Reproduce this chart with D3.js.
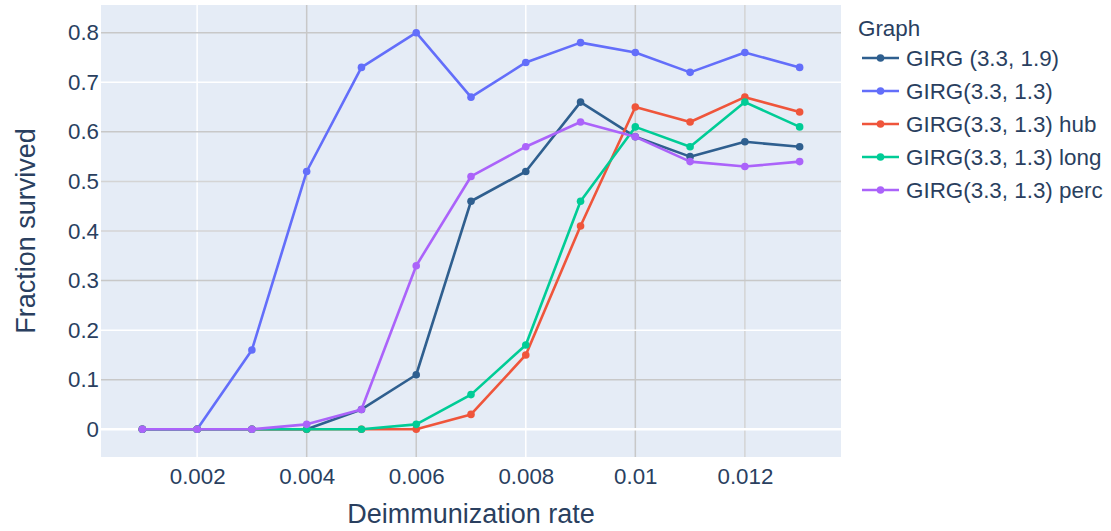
<!DOCTYPE html>
<html>
<head>
<meta charset="utf-8">
<script src="https://cdn.jsdelivr.net/npm/d3@7"></script>
<style>
  body { margin: 0; background: #fff; }
  text { font-family: "Liberation Sans", Arial, sans-serif; fill: #2a3f5f; }
</style>
</head>
<body>
<svg id="chart"></svg>
<script>
// deimmunization rates on the x axis
const rates = [0.001, 0.002, 0.003, 0.004, 0.005, 0.006, 0.007, 0.008, 0.009, 0.01, 0.011, 0.012, 0.013];

// fraction survived per graph
const girg19 = [0, 0, 0, 0, 0.04, 0.11, 0.46, 0.52, 0.66, 0.59, 0.55, 0.58, 0.57];
const girg13 = [0, 0, 0.16, 0.52, 0.73, 0.80, 0.67, 0.74, 0.78, 0.76, 0.72, 0.76, 0.73];
const girg13hub = [0, 0, 0, 0, 0, 0, 0.03, 0.15, 0.41, 0.65, 0.62, 0.67, 0.64];
const girg13long = [0, 0, 0, 0, 0, 0.01, 0.07, 0.17, 0.46, 0.61, 0.57, 0.66, 0.61];
const girg13perc = [0, 0, 0, 0.01, 0.04, 0.33, 0.51, 0.57, 0.62, 0.59, 0.54, 0.53, 0.54];

const seriesNames = ['GIRG (3.3, 1.9)', 'GIRG(3.3, 1.3)', 'GIRG(3.3, 1.3) hub', 'GIRG(3.3, 1.3) long', 'GIRG(3.3, 1.3) perc'];
const seriesValues = [girg19, girg13, girg13hub, girg13long, girg13perc];
const colors = ['#2f5f8f', '#636efa', '#ef553b', '#00cc96', '#ab63fa'];

const xTicks = [0.002, 0.004, 0.006, 0.008, 0.01, 0.012];
const yTicks = [0, 0.1, 0.2, 0.3, 0.4, 0.5, 0.6, 0.7, 0.8];

const W = 1111, H = 531;
const margin = { top: 5, right: 270, bottom: 74, left: 101 };
const width = W - margin.left - margin.right;
const height = H - margin.top - margin.bottom;

const svg = d3.select('#chart').attr('width', W).attr('height', H);
const g = svg.append('g').attr('transform', `translate(${margin.left},${margin.top})`);

const x = d3.scaleLinear().domain([0.000245, 0.013755]).range([0, width]);
const y = d3.scaleLinear().domain([-0.0559, 0.8559]).range([height, 0]);

g.append('rect').attr('width', width).attr('height', height).attr('fill', '#e5ecf6');

// grid lines, some of them render greyish in the original
const greyX = { 0.004: '#c8c8c8', 0.006: '#c8c8c8', 0.01: '#c8c8c8', 0.012: '#d4d4d4' };
const greyY = { 0.1: '#c8c8c8', 0.3: '#c8c8c8', 0.4: '#d4d4d4', 0.5: '#d4d4d4', 0.6: '#c8c8c8', 0.8: '#c8c8c8' };

g.append('g')
  .selectAll('line')
  .data(xTicks)
  .join('line')
  .attr('x1', d => x(d)).attr('x2', d => x(d))
  .attr('y1', 0).attr('y2', height)
  .attr('stroke', d => greyX[d] || '#fff')
  .attr('stroke-width', 1.5);

g.append('g')
  .selectAll('line')
  .data(yTicks)
  .join('line')
  .attr('x1', 0).attr('x2', width)
  .attr('y1', d => y(d)).attr('y2', d => y(d))
  .attr('stroke', d => d === 0 ? '#fff' : (greyY[d] || '#fff'))
  .attr('stroke-width', d => d === 0 ? 2.5 : 1.5);

// axes (labels only)
const xAxis = g.append('g')
  .attr('transform', `translate(0,${height})`)
  .call(d3.axisBottom(x).tickValues(xTicks).tickSize(0).tickPadding(8).tickFormat(d => String(+d.toFixed(3))));
xAxis.select('.domain').remove();
xAxis.selectAll('text').attr('font-size', 22.3).attr('dy', '0.85em').style('fill', '#2a3f5f');

const yAxis = g.append('g')
  .call(d3.axisLeft(y).tickValues(yTicks).tickSize(0).tickPadding(2).tickFormat(d => String(+d.toFixed(1))));
yAxis.select('.domain').remove();
yAxis.selectAll('text').attr('font-size', 22.3).style('fill', '#2a3f5f');

// lines and markers
const line = d3.line().x((d, i) => x(rates[i])).y(d => y(d));

seriesValues.forEach((vals, k) => {
  const sg = g.append('g');
  sg.append('path')
    .datum(vals)
    .attr('d', line)
    .attr('fill', 'none')
    .attr('stroke', colors[k])
    .attr('stroke-width', 2.6)
    .attr('stroke-linejoin', 'round');
  sg.selectAll('circle')
    .data(vals)
    .join('circle')
    .attr('cx', (d, i) => x(rates[i]))
    .attr('cy', d => y(d))
    .attr('r', 3.8)
    .attr('fill', colors[k]);
});

// axis titles
svg.append('text')
  .attr('x', margin.left + width / 2)
  .attr('y', 523)
  .attr('text-anchor', 'middle')
  .attr('font-size', 27)
  .text('Deimmunization rate');

svg.append('text')
  .attr('transform', `translate(35,${margin.top + height / 2}) rotate(-90)`)
  .attr('text-anchor', 'middle')
  .attr('font-size', 27)
  .text('Fraction survived');

// legend
const legend = svg.append('g').attr('transform', 'translate(858,0)');
legend.append('text')
  .attr('x', 0).attr('y', 28).attr('dy', '0.35em')
  .attr('font-size', 22.4)
  .text('Graph');

seriesNames.forEach((name, k) => {
  const ly = 58 + k * 33;
  const item = legend.append('g').attr('transform', `translate(0,${ly})`);
  item.append('line')
    .attr('x1', 4).attr('x2', 41)
    .attr('stroke', colors[k]).attr('stroke-width', 2.6);
  item.append('circle').attr('cx', 22.5).attr('r', 3.8).attr('fill', colors[k]);
  item.append('text')
    .attr('x', 48).attr('dy', '0.35em')
    .attr('font-size', 22.4)
    .text(name);
});
</script>
</body>
</html>
